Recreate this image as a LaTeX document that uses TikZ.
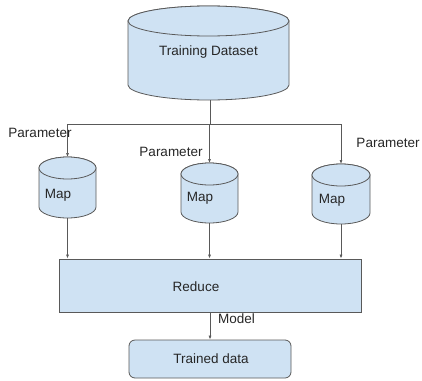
\documentclass[tikz,border=0pt]{standalone}
\usepackage{fontspec}
\setmainfont{Liberation Sans}
\usetikzlibrary{arrows.meta,positioning}
\definecolor{paleblue}{HTML}{CFE2F3}
\definecolor{edgegrey}{HTML}{595959}
\definecolor{inkgrey}{HTML}{262626}

% cylinder drawn round an empty named node: name, x radius, y radius
\newcommand{\drumshape}[3]{%
  \draw[drum] ([yshift=-#3]#1.north west) -- ([yshift=#3]#1.south west)
    arc[start angle=180, end angle=360, x radius=#2, y radius=#3]
    -- ([yshift=-#3]#1.north east)
    arc[start angle=0, end angle=180, x radius=#2, y radius=#3] -- cycle;
  \draw[drum] ([yshift=-#3]#1.north) ellipse[x radius=#2, y radius=#3];
}

\begin{document}
\begin{tikzpicture}[x=1pt,y=1pt,
  frame/.style={inner sep=0pt, outer sep=0pt},
  drum/.style={draw=edgegrey, fill=paleblue, line width=0.8pt},
  block/.style={draw=edgegrey, fill=paleblue, line width=0.8pt, inner sep=0pt},
  lbl/.style={font=\fontsize{13.5}{16}\selectfont, text=inkgrey, inner sep=0pt},
  wire/.style={edgegrey, line width=0.7pt},
  flow/.style={wire, -{Latex[length=4pt,width=3pt]}}]
  \useasboundingbox (0,0) rectangle (422,-380);

  % ── Training data store (top) ──
  \node[frame, minimum width=161pt, minimum height=94pt] (data) at (208.5,-53) {};
  \drumshape{data}{80.5pt}{15pt}
  \node[lbl] (datatxt) at (208.5,-52) {Training Dataset};

  % ── Map stores ──
  \node[frame, minimum width=57pt, minimum height=61pt] (map1) at (67.5,-187.5) {};
  \node[frame, minimum width=57pt, minimum height=60pt] (map2) at (209.5,-193) {};
  \node[frame, minimum width=58pt, minimum height=60pt] (map3) at (341,-194) {};
  \drumshape{map1}{28.5pt}{11pt}
  \drumshape{map2}{28.5pt}{11pt}
  \drumshape{map3}{29pt}{11pt}
  \node[lbl] (map1txt) at (58,-195) {Map};
  \node[lbl] (map2txt) at (200,-198) {Map};
  \node[lbl] (map3txt) at (332,-200) {Map};

  % ── Reduce and result ──
  \node[block, minimum width=302pt, minimum height=53pt] (reduce) at (210,-285.5) {};
  \node[lbl] (reducetxt) at (196,-287) {Reduce};
  \node[block, rounded corners=6pt, minimum width=162pt, minimum height=38pt] (trained) at (210,-359) {};
  \node[lbl] (trainedtxt) at (211,-359) {Trained data};

  % ── Parameter fan-out ──
  \coordinate (split) at (210,-124);
  \draw[wire] (data.south -| split) -- (split);
  \draw[wire] (map1.north |- split) -- (map3.north |- split);
  \draw[flow] (map1.north |- split) -- (map1.north);
  \draw[flow] (map2.north |- split) -- (map2.north);
  \draw[flow] (map3.north |- split) -- (map3.north);
  \node[lbl] (par1) at (40,-133) {Parameter};
  \node[lbl] (par2) at (171,-152) {Parameter};
  \node[lbl] (par3) at (388,-143) {Parameter};

  % ── Map to reduce ──
  \draw[flow] (map1.south) -- (map1.south |- reduce.north);
  \draw[flow] (map2.south) -- (map2.south |- reduce.north);
  \draw[flow] (map3.south) -- (map3.south |- reduce.north);

  % ── Model out ──
  \draw[flow] (reduce.south -| split) -- (trained.north -| split);
  \node[lbl, anchor=west] (model) at (218,-319) {Model};

\end{tikzpicture}
\end{document}
